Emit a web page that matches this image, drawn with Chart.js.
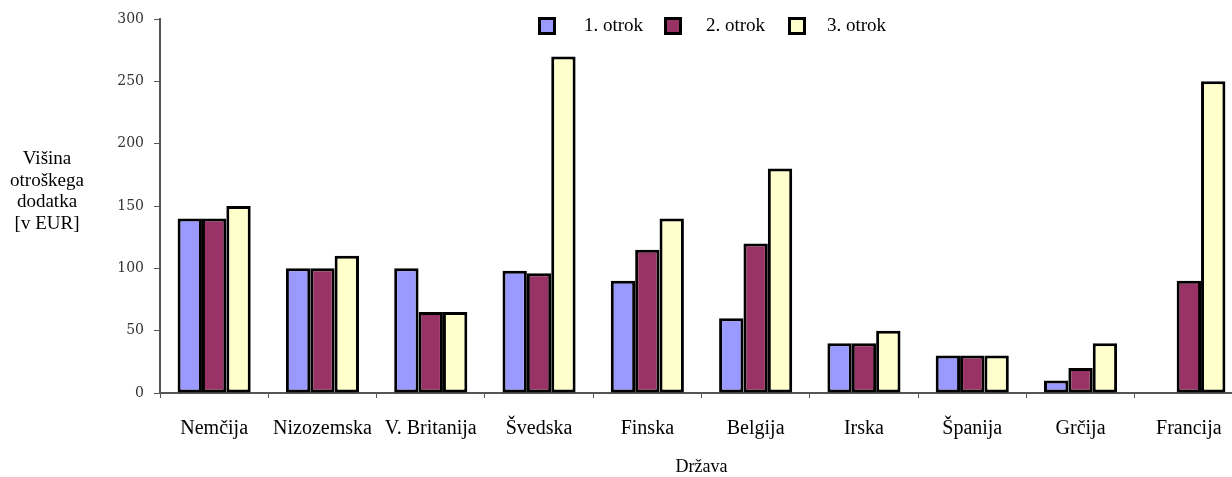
<!DOCTYPE html>
<html>
<head>
<meta charset="utf-8">
<script src="https://cdn.jsdelivr.net/npm/chart.js@4.4.0/dist/chart.umd.min.js"></script>
<style>
  html, body { margin: 0; padding: 0; background: #fff; overflow: hidden; }
  #wrap { position: relative; width: 1243px; height: 477px; }
</style>
</head>
<body>
<div id="wrap"><canvas id="myChart"></canvas></div>
<script>
// Data
var countries = ["Nemčija", "Nizozemska", "V. Britanija", "Švedska", "Finska", "Belgija", "Irska", "Španija", "Grčija", "Francija"];
var child1 = [140, 100, 100, 98, 90, 60, 40, 30, 10, null];
var child2 = [140, 100, 65, 96, 115, 120, 40, 30, 20, 90];
var child3 = [150, 110, 65, 270, 140, 180, 50, 30, 40, 250];
var seriesNames = ["1. otrok", "2. otrok", "3. otrok"];
var yTicks = [0, 50, 100, 150, 200, 250, 300];
var yTitle = ["Višina", "otroškega", "dodatka", "[v EUR]"];
var xTitle = "Država";

var colors = ['#9999FF', '#993366', '#FFFFCC'];
var serif = "'Liberation Serif', 'Times New Roman', serif";

function makeSet(i, values) {
    return {
        label: seriesNames[i],
        data: values,
        backgroundColor: colors[i],
        borderColor: '#000',
        borderWidth: 3,
        borderSkipped: false,
        barPercentage: 1,
        categoryPercentage: 0.675
    };
}

// legend + horizontal y title drawn by hand (excel style)
var legendBoxX = [538, 664, 788];
var legendTextX = [584, 706, 827];
var extras = {
    id: 'extras',
    afterDraw: function (chart) {
        var ctx = chart.ctx;
        ctx.save();
        // y axis title
        ctx.fillStyle = '#000';
        ctx.font = '19px ' + serif;
        ctx.textAlign = 'center';
        ctx.textBaseline = 'alphabetic';
        yTitle.forEach(function (line, i) {
            ctx.fillText(line, 47, 164 + i * 21.7);
        });
        // legend
        ctx.textAlign = 'left';
        chart.data.datasets.forEach(function (ds, i) {
            var x = legendBoxX[i];
            ctx.fillStyle = ds.backgroundColor;
            ctx.fillRect(x, 17, 18, 18);
            ctx.strokeStyle = '#000';
            ctx.lineWidth = 3;
            ctx.strokeRect(x + 1.5, 18.5, 15, 15);
            ctx.fillStyle = '#000';
            ctx.fillText(ds.label, legendTextX[i], 31);
        });
        ctx.restore();
    }
};

var ctx = document.getElementById('myChart').getContext('2d');
var myChart = new Chart(ctx, {
    type: 'bar',
    data: {
        labels: countries,
        datasets: [makeSet(0, child1), makeSet(1, child2), makeSet(2, child3)]
    },
    options: {
        responsive: true,
        maintainAspectRatio: false,
        animation: false,
        layout: { padding: { top: 19, left: 0, right: 0, bottom: 0 } },
        plugins: {
            legend: { display: false },
            tooltip: { enabled: false }
        },
        scales: {
            x: {
                afterFit: function (scale) { scale.height = 84; },
                grid: {
                    offset: true,
                    drawOnChartArea: false,
                    color: '#555',
                    tickLength: 5
                },
                border: { color: '#555', width: 2 },
                ticks: {
                    color: '#000',
                    padding: 19,
                    maxRotation: 0,
                    autoSkip: false,
                    font: { family: serif, size: 20 }
                },
                title: {
                    display: true,
                    text: xTitle,
                    color: '#000',
                    padding: { top: 0, bottom: -1 },
                    font: { family: serif, size: 18 }
                }
            },
            y: {
                min: 0,
                max: 300,
                afterFit: function (scale) { scale.width = 160; },
                afterBuildTicks: function (scale) {
                    scale.ticks = yTicks.map(function (v) { return { value: v }; });
                },
                grid: {
                    drawOnChartArea: false,
                    color: '#555',
                    tickLength: 6
                },
                border: { color: '#555', width: 2 },
                ticks: {
                    color: '#333',
                    padding: 10,
                    font: { family: "'DejaVu Serif', serif", size: 14 }
                }
            }
        }
    },
    plugins: [extras]
});
</script>
</body>
</html>
